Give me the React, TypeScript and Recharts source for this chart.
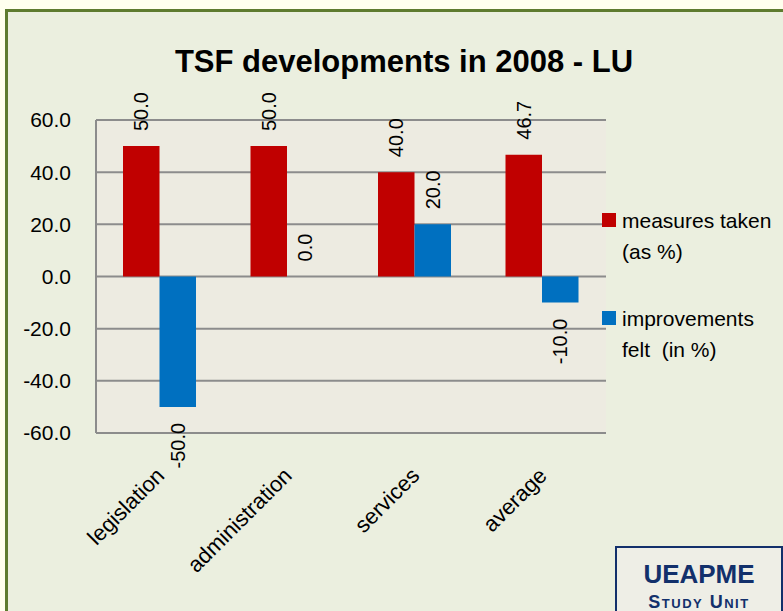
import React from 'react';
import { BarChart, Bar, XAxis, YAxis, CartesianGrid, LabelList } from 'recharts';

const categories = ['legislation', 'administration', 'services', 'average'];
const measuresTaken = [50.0, 50.0, 40.0, 46.7];
const improvementsFelt = [-50.0, 0.0, 20.0, -10.0];
const yTicks = [-60, -40, -20, 0, 20, 40, 60];
const seriesKeys = ['measures', 'improvements'];
const seriesColors = ['#C00000', '#0070C0'];
const legendLines = [
  ['measures taken', '(as %)'],
  ['improvements', 'felt\u00a0 (in %)'],
];
const chartTitle = 'TSF developments in 2008 - LU';

const data = categories.map((c, i) => ({
  category: c,
  measures: measuresTaken[i],
  improvements: improvementsFelt[i],
}));

const FONT = '"Liberation Sans", Arial, sans-serif';

const BarValueLabel = (props: any) => {
  const { x, y, width, height, value } = props;
  const v = Number(value);
  const cx = Number(x) + Number(width) / 2;
  const top = Math.min(Number(y), Number(y) + Number(height));
  const bottom = Math.max(Number(y), Number(y) + Number(height));
  if (v >= 0) {
    return (
      <text
        transform={`translate(${cx},${top - 15}) rotate(-90)`}
        textAnchor="start"
        dominantBaseline="central"
        fontSize={20}
        fontFamily={FONT}
        fill="#000"
      >
        {v.toFixed(1)}
      </text>
    );
  }
  return (
    <text
      transform={`translate(${cx},${bottom + 16}) rotate(-90)`}
      textAnchor="end"
      dominantBaseline="central"
      fontSize={20}
      fontFamily={FONT}
      fill="#000"
    >
      {v.toFixed(1)}
    </text>
  );
};

const CategoryTick = (props: any) => {
  const { x, payload } = props;
  return (
    <text
      transform={`translate(${Number(x) + 6},477) rotate(-45)`}
      textAnchor="end"
      fontSize={22}
      fontFamily={FONT}
      fill="#000"
    >
      {payload.value}
    </text>
  );
};

export default function App() {
  return (
    <div
      style={{
        position: 'absolute',
        left: 0,
        top: 0,
        width: 783,
        height: 611,
        background: '#FFFFEE',
        overflow: 'hidden',
        fontFamily: FONT,
      }}
    >
      <div
        style={{
          position: 'absolute',
          left: 5,
          top: 9,
          width: 800,
          height: 620,
          borderLeft: '3px solid #5E7B2F',
          borderTop: '3px solid #5E7B2F',
          background: '#EBEFDF',
        }}
      />
      <div
        style={{
          position: 'absolute',
          left: 404,
          top: 46,
          transform: 'translateX(-50%)',
          whiteSpace: 'nowrap',
          fontSize: 31,
          fontWeight: 'bold',
          lineHeight: '31px',
          color: '#000',
        }}
      >
        {chartTitle}
      </div>
      <div style={{ position: 'absolute', left: 0, top: 0 }}>
        <BarChart
          width={783}
          height={611}
          data={data}
          margin={{ top: 120, right: 177, bottom: 148, left: 0 }}
          barGap={0}
          barSize={36.5}
        >
          <CartesianGrid
            vertical={false}
            stroke="#8C8C8C"
            strokeWidth={2}
            fill="#EDEBE1"
            fillOpacity={1}
          />
          <XAxis
            dataKey="category"
            axisLine={false}
            tickLine={false}
            interval={0}
            height={30}
            tick={<CategoryTick />}
          />
          <YAxis
            type="number"
            domain={[-60, 60]}
            ticks={yTicks}
            width={96}
            axisLine={{ stroke: '#8C8C8C', strokeWidth: 2 }}
            tickLine={false}
            tickSize={0}
            tickMargin={25}
            tickFormatter={(v: number) => v.toFixed(1)}
            tick={{ fontSize: 21, fill: '#000', fontFamily: FONT }}
          />
          {seriesKeys.map((k, i) => (
            <Bar
              key={k}
              dataKey={k}
              fill={seriesColors[i]}
              isAnimationActive={false}
              minPointSize={(v: number) => (v === 0 ? 0.01 : 0)}
            >
              <LabelList dataKey={k} content={<BarValueLabel />} />
            </Bar>
          ))}
        </BarChart>
      </div>
      {legendLines.map((lines, i) => (
        <div
          key={i}
          style={{
            position: 'absolute',
            left: 602,
            top: i === 0 ? 205 : 303,
            display: 'flex',
            alignItems: 'flex-start',
          }}
        >
          <div
            style={{
              width: 14,
              height: 14,
              background: seriesColors[i],
              marginTop: 8,
              marginRight: 6,
            }}
          />
          <div style={{ fontSize: 21, lineHeight: '31px', color: '#000', whiteSpace: 'pre' }}>
            {lines.map((l, j) => (
              <div key={j}>{l}</div>
            ))}
          </div>
        </div>
      ))}
      <div
        style={{
          position: 'absolute',
          left: 615,
          top: 546,
          width: 168,
          height: 80,
          border: '2px solid #12306B',
          background: '#EEEEE6',
          color: '#12306B',
          fontWeight: 'bold',
          textAlign: 'center',
          boxSizing: 'border-box',
        }}
      >
        <div style={{ fontSize: 26, lineHeight: '24px', marginTop: 14 }}>UEAPME</div>
        <div
          style={{
            fontSize: 18,
            lineHeight: '18px',
            marginTop: 7,
            fontVariant: 'small-caps',
            letterSpacing: 1.5,
          }}
        >
          Study Unit
        </div>
      </div>
    </div>
  );
}
